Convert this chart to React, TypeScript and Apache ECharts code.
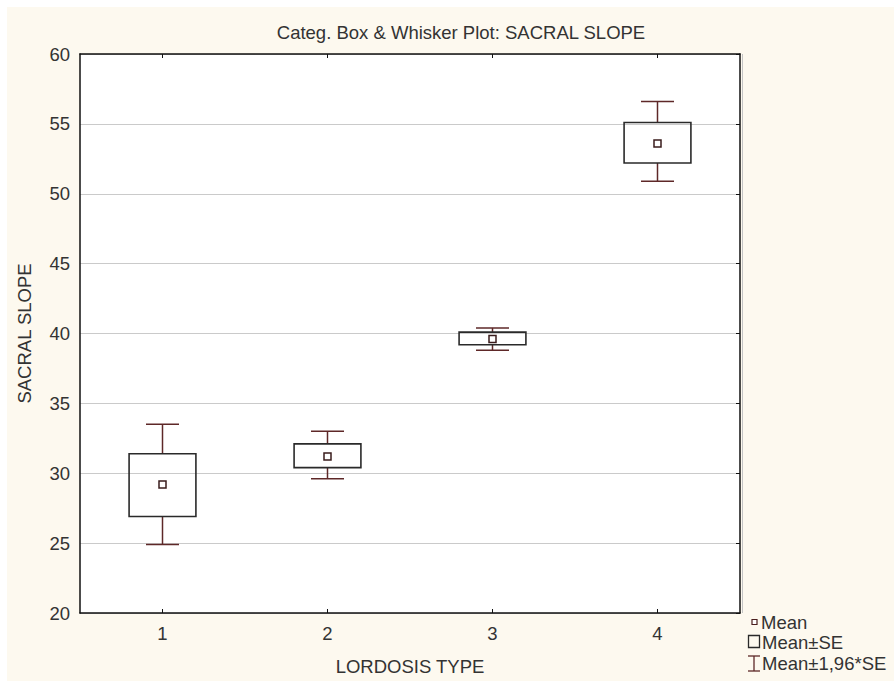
import React, { useEffect, useRef } from "react";
import * as echarts from "echarts";

const categories = ["1", "2", "3", "4"];
const meanVals = [29.2, 31.2, 39.6, 53.6];
const seLow = [26.9, 30.4, 39.2, 52.2];
const seHigh = [31.4, 32.1, 40.1, 55.1];
const ciLow = [24.9, 29.6, 38.8, 50.9];
const ciHigh = [33.5, 33.0, 40.4, 56.6];
const yTicks = { min: 20, max: 60, interval: 5 };

const OX = 7;
const OY = 7;
const FONT = "'Liberation Sans', Arial, sans-serif";
const FS = 18.5;
const TXT = "#333333";
const BOX = "#2a2a2a";
const WHISK = "#5e2828";

export default function App() {
  const ref = useRef<HTMLDivElement>(null);
  useEffect(() => {
    if (!ref.current) return;
    const chart = echarts.init(ref.current, undefined, { renderer: "svg" });
    const rows = categories.map((_, i) => [i, ciLow[i], seLow[i], meanVals[i], seHigh[i], ciHigh[i]]);
    const ax = (x: number) => x - OX;
    const ay = (y: number) => y - OY;
    const option: any = {
      animation: false,
      backgroundColor: "transparent",
      grid: {
        left: ax(80),
        top: ay(54),
        width: 660,
        height: 559,
        show: true,
        backgroundColor: "#ffffff",
        borderWidth: 0,
      },
      xAxis: [
        {
          type: "category",
          data: categories,
          position: "bottom",
          boundaryGap: true,
          axisLine: { show: true, lineStyle: { color: "#111", width: 1.5 } },
          axisTick: { show: true, inside: true, alignWithLabel: true, length: 4, lineStyle: { color: "#111" } },
          axisLabel: { fontSize: FS, color: TXT, fontFamily: FONT, margin: 11 },
          splitLine: { show: false },
          name: "LORDOSIS TYPE",
          nameLocation: "middle",
          nameGap: 44,
          nameTextStyle: { fontSize: FS, color: TXT, fontFamily: FONT },
        },
        {
          type: "category",
          data: categories,
          position: "top",
          boundaryGap: true,
          axisLine: { show: true, lineStyle: { color: "#111", width: 1.5 } },
          axisTick: { show: true, inside: true, alignWithLabel: true, length: 4, lineStyle: { color: "#111" } },
          axisLabel: { show: false },
          splitLine: { show: false },
        },
      ],
      yAxis: [
        {
          type: "value",
          position: "left",
          min: yTicks.min,
          max: yTicks.max,
          interval: yTicks.interval,
          axisLine: { show: true, lineStyle: { color: "#111", width: 1.5 } },
          axisTick: { show: false },
          axisLabel: { fontSize: FS, color: TXT, fontFamily: FONT, margin: 10 },
          splitLine: { show: true, lineStyle: { color: "#cacaca", width: 1 } },
          name: "SACRAL SLOPE",
          nameLocation: "middle",
          nameGap: 46,
          nameTextStyle: { fontSize: FS, color: TXT, fontFamily: FONT },
        },
        {
          type: "value",
          position: "right",
          min: yTicks.min,
          max: yTicks.max,
          interval: yTicks.interval,
          axisLine: { show: true, lineStyle: { color: "#111", width: 1.5 } },
          axisTick: { show: true, inside: true, length: 4, lineStyle: { color: "#111" } },
          axisLabel: { show: false },
          splitLine: { show: false },
        },
      ],
      series: [
        {
          type: "custom",
          coordinateSystem: "cartesian2d",
          xAxisIndex: 0,
          yAxisIndex: 0,
          data: rows,
          encode: { x: 0, y: [1, 2, 3, 4, 5] },
          renderItem: (params: any, api: any) => {
            const x = api.value(0);
            const pLo = api.coord([x, api.value(1)]);
            const pSeLo = api.coord([x, api.value(2)]);
            const pMean = api.coord([x, api.value(3)]);
            const pSeHi = api.coord([x, api.value(4)]);
            const pHi = api.coord([x, api.value(5)]);
            const band = api.size([1, 0])[0];
            const boxW = band * 0.405;
            const capW = band * 0.2;
            const cx = pMean[0];
            const ws = { stroke: WHISK, lineWidth: 1.5 };
            const m = 7;
            return {
              type: "group",
              children: [
                { type: "line", shape: { x1: cx, y1: pHi[1], x2: cx, y2: pSeHi[1] }, style: ws },
                { type: "line", shape: { x1: cx, y1: pSeLo[1], x2: cx, y2: pLo[1] }, style: ws },
                { type: "line", shape: { x1: cx - capW / 2, y1: pHi[1], x2: cx + capW / 2, y2: pHi[1] }, style: ws },
                { type: "line", shape: { x1: cx - capW / 2, y1: pLo[1], x2: cx + capW / 2, y2: pLo[1] }, style: ws },
                {
                  type: "rect",
                  shape: { x: cx - boxW / 2, y: pSeHi[1], width: boxW, height: pSeLo[1] - pSeHi[1] },
                  style: { fill: "none", stroke: BOX, lineWidth: 1.6 },
                },
                {
                  type: "rect",
                  shape: { x: cx - m / 2, y: pMean[1] - m / 2, width: m, height: m },
                  style: { fill: "#ffffff", stroke: "#3a1c1c", lineWidth: 1.5 },
                },
              ],
            };
          },
        },
      ],
      graphic: [
        {
          type: "line",
          shape: { x1: ax(742.5), y1: ay(54), x2: ax(742.5), y2: ay(613) },
          style: { stroke: "#c4c4c4", lineWidth: 1 },
        },
        {
          type: "text",
          x: ax(461),
          y: ay(32),
          style: { text: "Categ. Box & Whisker Plot: SACRAL SLOPE", fontSize: FS, fontFamily: FONT, fill: TXT, align: "center", verticalAlign: "middle" },
        },
        {
          type: "rect",
          shape: { x: ax(752), y: ay(619.5), width: 5, height: 5 },
          style: { fill: "#fff", stroke: "#4a1f1f", lineWidth: 1.2 },
        },
        {
          type: "text",
          x: ax(761),
          y: ay(622),
          style: { text: "Mean", fontSize: FS, fontFamily: FONT, fill: TXT, align: "left", verticalAlign: "middle" },
        },
        {
          type: "rect",
          shape: { x: ax(748.5), y: ay(635.5), width: 11, height: 12 },
          style: { fill: "none", stroke: BOX, lineWidth: 1.3 },
        },
        {
          type: "text",
          x: ax(762),
          y: ay(642),
          style: { text: "Mean±SE", fontSize: FS, fontFamily: FONT, fill: TXT, align: "left", verticalAlign: "middle" },
        },
        { type: "line", shape: { x1: ax(754), y1: ay(656), x2: ax(754), y2: ay(671) }, style: { stroke: WHISK, lineWidth: 1.3 } },
        { type: "line", shape: { x1: ax(748), y1: ay(656), x2: ax(760), y2: ay(656) }, style: { stroke: WHISK, lineWidth: 1.3 } },
        { type: "line", shape: { x1: ax(748), y1: ay(671), x2: ax(760), y2: ay(671) }, style: { stroke: WHISK, lineWidth: 1.3 } },
        {
          type: "text",
          x: ax(762),
          y: ay(663),
          style: { text: "Mean±1,96*SE", fontSize: FS, fontFamily: FONT, fill: TXT, align: "left", verticalAlign: "middle" },
        },
      ],
    };
    chart.setOption(option);
    return () => chart.dispose();
  }, []);
  return (
    <div style={{ position: "absolute", left: 0, top: 0, width: 894, height: 684, background: "#ffffff", overflow: "hidden" }}>
      <div
        ref={ref}
        style={{ position: "absolute", left: OX, top: OY, width: 894 - OX, height: 684 - OY - 3, background: "#fdf9ef" }}
      />
    </div>
  );
}
